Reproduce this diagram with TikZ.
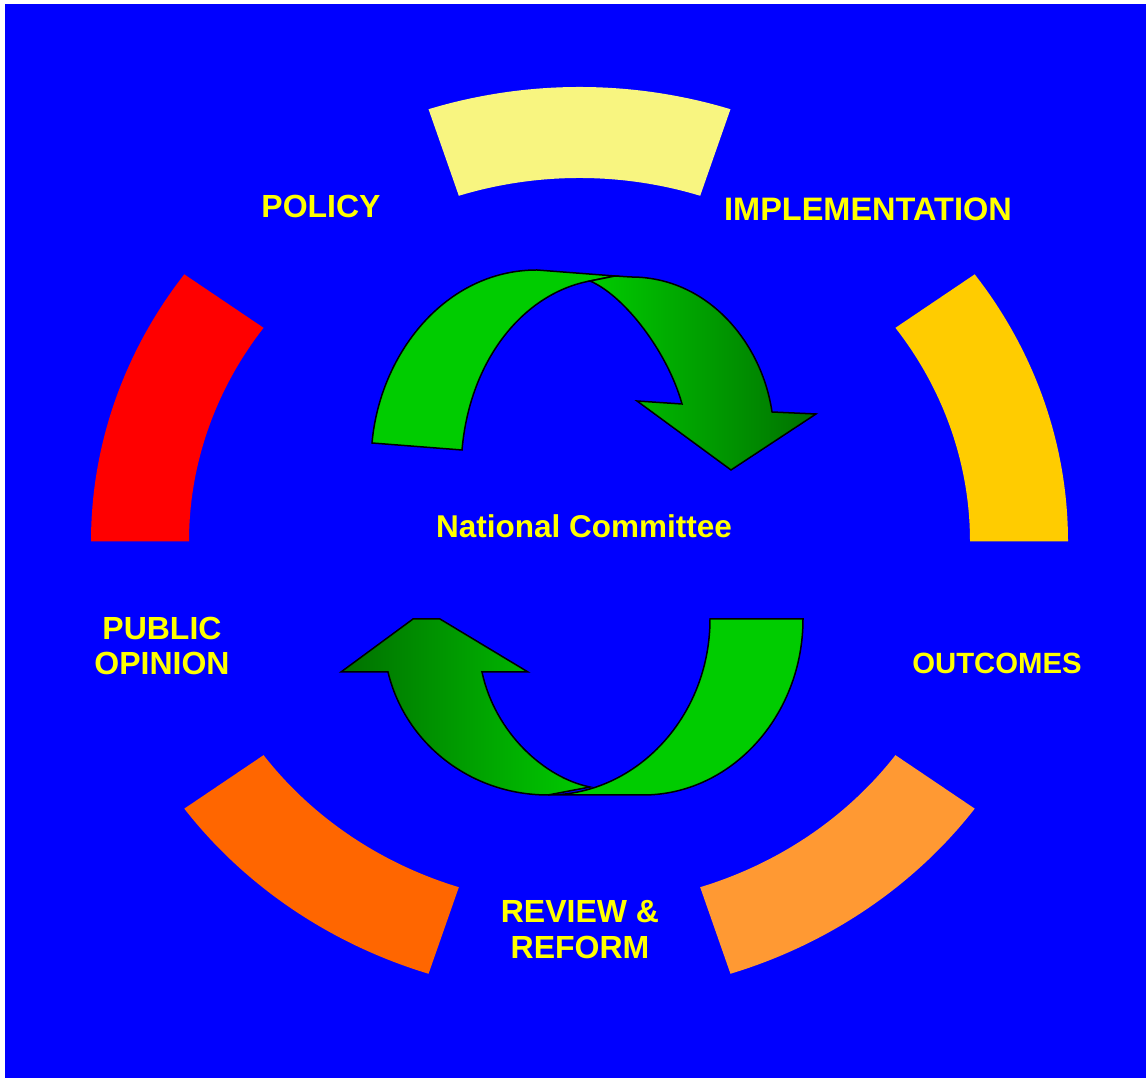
\documentclass[tikz,border=0pt]{standalone}
\usepackage{fontspec}
\setmainfont{Liberation Sans}
\usepackage{tikz}
\usetikzlibrary{calc}
\definecolor{bgblue}{RGB}{0,0,255}
\definecolor{txtyellow}{RGB}{255,255,0}
\definecolor{paleyellow}{RGB}{248,245,128}
\definecolor{gold}{RGB}{255,204,0}
\definecolor{lightorange}{RGB}{255,153,51}
\definecolor{deeporange}{RGB}{255,102,0}
\definecolor{stagered}{RGB}{255,0,0}
\definecolor{brightgreen}{RGB}{0,204,0}
\definecolor{darkgreen}{RGB}{0,112,0}

\begin{document}
\begin{tikzpicture}[x=1pt, y=1pt,
    stage/.style={text=txtyellow, font=\bfseries\fontsize{32}{35.5}\selectfont, align=center, inner sep=0},
    band/.style={draw=black, line width=1.5pt}]
    \useasboundingbox (0,0) rectangle (1146,1078);
    \fill[bgblue] (5,0) rectangle (1146,1074);
    \coordinate (ring) at (579.5,536.5);
    % ring segments
    \foreach \a/\b/\col in {72/108/paleyellow, 144/180/stagered, 216/252/deeporange, 288/324/lightorange, 0/36/gold}
        \fill[\col] ([shift={(\a:488.5pt and 454.5pt)}]ring)
            arc[start angle=\a, end angle=\b, x radius=488.5pt, y radius=454.5pt]
            -- ([shift={(\b:390.5pt and 363.5pt)}]ring)
            arc[start angle=\b, end angle=\a, x radius=390.5pt, y radius=363.5pt] -- cycle;
    % upper arrow
    \filldraw[band, fill=brightgreen] (372,635) .. controls (380,725) and (446,808) .. (537,808)
        -- (615,802) -- (590,797) .. controls (525,785) and (470,720) .. (462,628) -- cycle;
    \path[band, left color=brightgreen, right color=darkgreen] (590,797) -- (615,802) -- (631,801)
        .. controls (708,801) and (762,735) .. (772,666) -- (816,664) -- (731,608) -- (637,677) -- (682,674)
        .. controls (668,725) and (625,782) .. (590,797) -- cycle;
    % lower arrow
    \path[band, left color=darkgreen, right color=brightgreen] (341,406) -- (413,459) -- (440,459)
        -- (528,406) -- (482,406) .. controls (495,345) and (545,300) .. (590,291) -- (548,283)
        .. controls (470,283) and (405,335) .. (388,406) -- cycle;
    \filldraw[band, fill=brightgreen] (710,459) -- (803,459) .. controls (803,362) and (731,283) .. (643,283)
        -- (548,283) .. controls (637,283) and (710,362) .. (710,459) -- cycle;
    % labels
    \node[stage] (policy) at (321,872) {POLICY};
    \node[stage, font=\bfseries\fontsize{32.5}{35.5}\selectfont] (implement) at (868,869) {IMPLEMENTATION};
    \node[stage, font=\bfseries\fontsize{31.5}{35.5}\selectfont] (committee) at (584,552) {National Committee};
    \node[stage] (opinion) at (162,432) {PUBLIC\\OPINION};
    \node[stage, font=\bfseries\fontsize{29.3}{33}\selectfont] (outcomes) at (997,415) {OUTCOMES};
    \node[stage] (review) at (580,148.5) {REVIEW \&\\REFORM};
\end{tikzpicture}
\end{document}
